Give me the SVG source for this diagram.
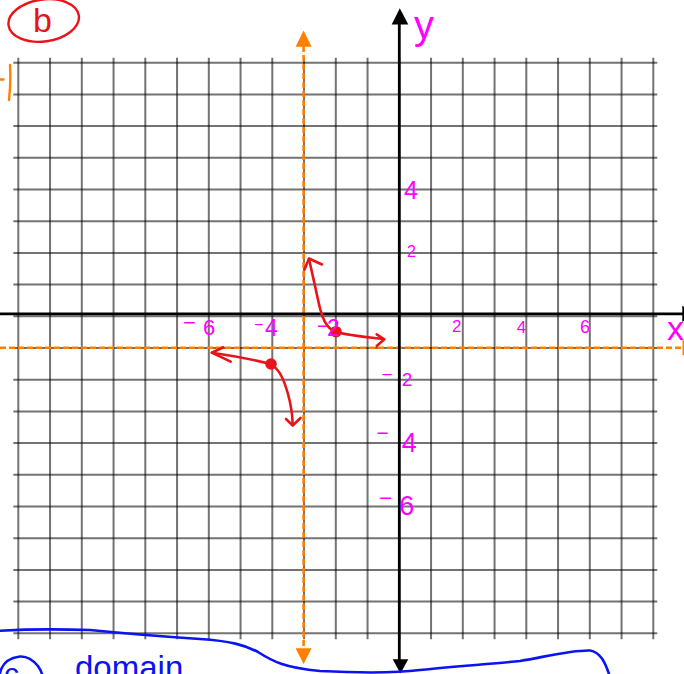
<svg xmlns="http://www.w3.org/2000/svg" width="684" height="674" viewBox="0 0 684 674">
  <defs>
    <style>
      .grid { stroke: #000; stroke-opacity: 0.55; stroke-width: 2; fill: none; }
      .axis { stroke: #000; stroke-width: 2.8; fill: none; }
      .ahead { fill: #000; }
      .orange { stroke: #ff8000; stroke-width: 2.6; stroke-dasharray: 6 3; fill: none; }
      .ohead { fill: #ff8000; }
      .red { stroke: #e8141a; stroke-width: 2.6; fill: none; stroke-linecap: round; stroke-linejoin: round; }
      .dot { fill: #e8141a; }
      .blue { stroke: #0a14f0; stroke-width: 2.6; fill: none; stroke-linecap: round; }
      .lbl { font-family: "Liberation Sans", Arial, sans-serif; fill: #ff00ff; }
    </style>
  </defs>
  <rect width="684" height="674" fill="#ffffff"/>

  <g id="grid" class="grid">
    <path d="M18.3,57.7V639.3 M50.05,57.7V639.3 M81.8,57.7V639.3 M113.55,57.7V639.3 M145.3,57.7V639.3 M177.05,57.7V639.3 M208.8,57.7V639.3 M240.55,57.7V639.3 M272.3,57.7V639.3 M304.05,57.7V639.3 M335.8,57.7V639.3 M367.55,57.7V639.3 M399.3,57.7V639.3 M431.05,57.7V639.3 M462.8,57.7V639.3 M494.55,57.7V639.3 M526.3,57.7V639.3 M558.05,57.7V639.3 M589.8,57.7V639.3 M621.55,57.7V639.3 M653.3,57.7V639.3"/>
    <path d="M13.3,62.7H657.3 M13.3,94.4H657.3 M13.3,126.1H657.3 M13.3,157.8H657.3 M13.3,189.5H657.3 M13.3,221.2H657.3 M13.3,252.9H657.3 M13.3,284.6H657.3 M13.3,316.3H657.3 M13.3,348H657.3 M13.3,379.7H657.3 M13.3,411.4H657.3 M13.3,443.1H657.3 M13.3,474.8H657.3 M13.3,506.5H657.3 M13.3,538.2H657.3 M13.3,569.9H657.3 M13.3,601.6H657.3 M13.3,633.3H657.3"/>
  </g>

  <g id="asymptotes">
    <line class="orange" x1="303.6" y1="46" x2="303.6" y2="649"/>
    <polygon class="ohead" points="303.6,30.5 295.6,46.7 311.6,46.7"/>
    <polygon class="ohead" points="303.6,664 295.6,648.3 311.6,648.3"/>
    <line class="orange" x1="0" y1="347.8" x2="683" y2="347.8"/>
    <polygon class="ohead" points="682.5,339.8 682.5,355.8 698,347.8"/>
    <path d="M0,79.5H3.5 M10,65 Q11,82 9,100" stroke="#ff8000" stroke-width="2.4" fill="none" stroke-linecap="round"/>
  </g>

  <g id="axes">
    <line class="axis" x1="399.3" y1="22" x2="399.3" y2="661"/>
    <polygon class="ahead" points="399.8,8.3 391.7,24.5 408.3,24.5"/>
    <polygon class="ahead" points="400.5,673.5 392.7,659.3 408.3,659.3"/>
    <line class="axis" x1="0" y1="313.8" x2="684" y2="313.8"/>
    <polygon class="ahead" points="682.3,305.8 682.3,321.8 698,313.8"/>
  </g>

  <g id="curves">
    <path class="red" d="M335,331.5 C326,328 322,318 318.5,302 C315.5,288 312,272 309,259"/>
    <path class="red" d="M304.5,269.5 L309,258.5 L322,264.5"/>
    <path class="red" d="M335,331.5 C345,335 360,336.5 383.5,339"/>
    <path class="red" d="M376.7,334.3 L384.3,339.3 L376.7,346"/>
    <circle class="dot" cx="336" cy="331.7" r="5.8"/>
    <path class="red" d="M271,364 C255,360 235,356 212,352.7"/>
    <path class="red" d="M223.3,347.3 L211.7,352.7 L230.7,361.7"/>
    <path class="red" d="M271,364 C280,370 284,380 288,394 C291,405 292.5,415 292.7,425"/>
    <path class="red" d="M286,419 L292.7,425.5 L300.5,418"/>
    <circle class="dot" cx="271" cy="364" r="5.8"/>
  </g>

  <g id="label-b">
    <ellipse cx="43.7" cy="20.5" rx="35.5" ry="21" fill="none" stroke="#e8141a" stroke-width="2.4" transform="rotate(-8 43.7 20.5)"/>
    <text x="33" y="32" font-family="Liberation Sans, Arial, sans-serif" font-size="34" fill="#e8141a">b</text>
  </g>

  <g id="tick-labels">
    <text class="lbl" x="414" y="39" font-size="40">y</text>
    <text class="lbl" x="667" y="340" font-size="34">x</text>
    <text class="lbl" x="404" y="199.3" font-size="25">4</text>
    <text class="lbl" x="407" y="257.3" font-size="16">2</text>
    <text class="lbl" x="452" y="331.7" font-size="17">2</text>
    <text class="lbl" x="516.7" y="333" font-size="17">4</text>
    <text class="lbl" x="580" y="333" font-size="18">6</text>
    <text class="lbl" x="183" y="330" font-size="22">−<tspan x="203" y="335">6</tspan></text>
    <text class="lbl" x="254" y="330" font-size="16">−<tspan x="265" y="336" font-size="23">4</tspan></text>
    <text class="lbl" x="317" y="332" font-size="18">−<tspan x="327" y="336" font-size="23">2</tspan></text>
    <text class="lbl" x="381.5" y="380.5" font-size="19">−<tspan x="401.7" y="386">2</tspan></text>
    <text class="lbl" x="376.5" y="440" font-size="21">−<tspan x="401.7" y="451.7" font-size="27">4</tspan></text>
    <text class="lbl" x="379" y="506" font-size="23">−<tspan x="399.3" y="515" font-size="27">6</tspan></text>
  </g>

  <g id="domain-note">
    <path class="blue" d="M0,630.7 C30,629 60,629 90,630 C120,633 170,637 200,639 C230,641 245,645 258,652 C272,661 285,668 320,671 C360,673 400,672.5 420,670 C460,666 500,663 520,661 C545,657 570,650 590,650.5 C600,652 605,662 609,674"/>
    <path class="blue" d="M0,673 C2,664 8,658 20,656.5 C28,656 33,660 38,666 C40,669 41.5,672 42,674"/>
    <text x="4" y="684" font-family="Liberation Sans, Arial, sans-serif" font-size="30" fill="#0a14f0">c<tspan x="75" y="679" font-size="33">domain</tspan></text>
  </g>
</svg>
